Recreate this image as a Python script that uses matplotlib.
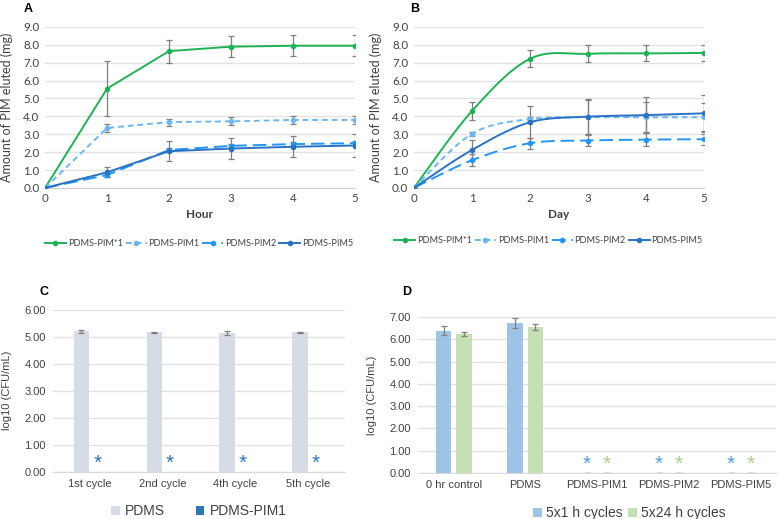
import numpy as np
from matplotlib import pyplot as plt

# ---- data ----
x_time = [0, 1, 2, 3, 4, 5]
series_names = ['PDMS-PIM*1', 'PDMS-PIM1', 'PDMS-PIM2', 'PDMS-PIM5']

hour_vals = {
    'PDMS-PIM*1': [0, 5.55, 7.65, 7.9, 7.95, 7.95],
    'PDMS-PIM1': [0, 3.35, 3.68, 3.72, 3.8, 3.8],
    'PDMS-PIM2': [0, 0.72, 2.12, 2.35, 2.45, 2.5],
    'PDMS-PIM5': [0, 0.87, 2.05, 2.2, 2.3, 2.37],
}
hour_err = {
    'PDMS-PIM*1': [0, 1.52, 0.65, 0.6, 0.6, 0.6],
    'PDMS-PIM1': [0, 0.22, 0.2, 0.22, 0.2, 0.2],
    'PDMS-PIM2': [0, 0.12, 0.1, 0.1, 0.1, 0.1],
    'PDMS-PIM5': [0, 0.27, 0.55, 0.57, 0.6, 0.62],
}
day_vals = {
    'PDMS-PIM*1': [0, 4.3, 7.22, 7.5, 7.52, 7.55],
    'PDMS-PIM1': [0, 3.02, 3.85, 3.95, 3.95, 3.95],
    'PDMS-PIM2': [0, 1.55, 2.5, 2.65, 2.7, 2.72],
    'PDMS-PIM5': [0, 2.12, 3.67, 3.98, 4.07, 4.17],
}
day_err = {
    'PDMS-PIM*1': [0, 0.5, 0.47, 0.48, 0.45, 0.47],
    'PDMS-PIM1': [0, 0.1, 0.1, 0.95, 0.85, 0.8],
    'PDMS-PIM2': [0, 0.35, 0.3, 0.32, 0.35, 0.3],
    'PDMS-PIM5': [0, 0.55, 0.9, 0.98, 1.0, 1.0],
}

cycles = ['1st cycle', '2nd cycle', '4th cycle', '5th cycle']
pdms_c = [5.2, 5.17, 5.15, 5.17]
pdms_c_err = [0.04, 0.01, 0.07, 0.01]
pim1_c = [0, 0, 0, 0]

groups_d = ['0 hr control', 'PDMS', 'PDMS-PIM1', 'PDMS-PIM2', 'PDMS-PIM5']
d_1h = [6.38, 6.75, 0, 0, 0]
d_1h_err = [0.2, 0.22, 0, 0, 0]
d_24h = [6.22, 6.55, 0, 0, 0]
d_24h_err = [0.09, 0.13, 0, 0, 0]

colors = {'PDMS-PIM*1': '#1fb254', 'PDMS-PIM1': '#6cb6f2',
          'PDMS-PIM2': '#2196f3', 'PDMS-PIM5': '#2a72c2'}
dashes = {'PDMS-PIM*1': None, 'PDMS-PIM1': (3, 2),
          'PDMS-PIM2': (7, 3), 'PDMS-PIM5': None}
grid_c = '#e2e2e2'
err_c = '#7f7f7f'
txt_c = '#404040'


def smooth(x, y, n=30):
    # Excel-style smoothed line (Catmull-Rom bezier)
    x = np.asarray(x, float)
    y = np.asarray(y, float)
    xs, ys = [], []
    for i in range(len(x) - 1):
        p0 = np.array([x[max(i - 1, 0)], y[max(i - 1, 0)]])
        p1 = np.array([x[i], y[i]])
        p2 = np.array([x[i + 1], y[i + 1]])
        p3 = np.array([x[min(i + 2, len(x) - 1)], y[min(i + 2, len(x) - 1)]])
        c1 = p1 + (p2 - p0) / 6
        c2 = p2 - (p3 - p1) / 6
        t = np.linspace(0, 1, n)[:, None]
        pts = (1 - t) ** 3 * p1 + 3 * (1 - t) ** 2 * t * c1 + 3 * (1 - t) * t ** 2 * c2 + t ** 3 * p2
        xs.extend(pts[:, 0])
        ys.extend(pts[:, 1])
    return xs, ys


def line_panel(ax, vals, errs, smoothed, xlabel):
    for name in series_names:
        c = colors[name]
        xs, ys = (smooth(x_time, vals[name]) if smoothed else (x_time, vals[name]))
        ln, = ax.plot(xs, ys, color=c, lw=1.4, zorder=3)
        if dashes[name]:
            ln.set_dashes(dashes[name])
        ax.errorbar(x_time, vals[name], yerr=errs[name], fmt='none', ecolor=err_c,
                    elinewidth=0.9, capsize=2, capthick=0.9, zorder=2)
        ax.plot(x_time, vals[name], 'o', color=c, ms=3, zorder=4)
    ax.set_xlim(0, 5)
    ax.set_ylim(0, 9)
    ax.set_yticks(np.arange(0, 9.1, 1))
    ax.set_yticklabels(['%.1f' % v for v in np.arange(0, 9.1, 1)])
    ax.set_xticks(x_time)
    ax.grid(axis='y', color=grid_c, lw=1)
    ax.set_axisbelow(True)
    for s in ['top', 'right', 'left']:
        ax.spines[s].set_visible(False)
    ax.spines['bottom'].set_color('#d0d0d0')
    ax.tick_params(length=0, labelsize=8.3, colors=txt_c, pad=4)
    ax.set_xlabel(xlabel, fontsize=8.5, fontweight='bold', color=txt_c, labelpad=3)
    ax.set_ylabel('Amount of PIM eluted (mg)', fontsize=9, color=txt_c)


plt.rcParams['font.family'] = ['Lato', 'DejaVu Sans']
fig = plt.figure(figsize=(7.78, 5.19), dpi=100)

axA = fig.add_axes([0.058, 0.638, 0.398, 0.310])
axB = fig.add_axes([0.532, 0.638, 0.373, 0.310])
line_panel(axA, hour_vals, hour_err, False, 'Hour')
line_panel(axB, day_vals, day_err, True, 'Day')
axA.yaxis.set_label_coords(-0.105, 0.5)
axB.yaxis.set_label_coords(-0.11, 0.5)

for ax, cx, cy in [(axA, 0.256, 0.531), (axB, 0.705, 0.537)]:
    handles = []
    for name in series_names:
        h, = ax.plot([], [], color=colors[name], lw=1.4, marker='o', ms=3)
        if dashes[name]:
            h.set_dashes(dashes[name])
        handles.append(h)
    fig.legend(handles, series_names, loc='center', bbox_to_anchor=(cx, cy), ncol=4,
               frameon=False, fontsize=6.6, handlelength=2.3, columnspacing=0.3,
               handletextpad=0.2, labelcolor=txt_c)

fig.text(0.031, 0.977, 'A', fontsize=9, fontweight='bold', family='Liberation Sans')
fig.text(0.527, 0.977, 'B', fontsize=9, fontweight='bold', family='Liberation Sans')

# ---- bar panels ----
axC = fig.add_axes([0.068, 0.091, 0.375, 0.312])
axD = fig.add_axes([0.537, 0.089, 0.461, 0.300])

for ax in (axC, axD):
    for s in ['top', 'right', 'left']:
        ax.spines[s].set_visible(False)
    ax.spines['bottom'].set_color('#d9d9d9')
    ax.grid(axis='y', color=grid_c, lw=1)
    ax.set_axisbelow(True)
    ax.tick_params(length=0, labelsize=8, colors=txt_c, pad=5)

w = 0.216
xc = np.arange(len(cycles))
axC.bar(xc - w / 2, pdms_c, w, color='#d6dce5', yerr=pdms_c_err, ecolor=err_c,
        error_kw=dict(elinewidth=0.9, capsize=2, capthick=0.9), label='PDMS')
axC.bar(xc + w / 2, pim1_c, w, color='#2e75b6', label='PDMS-PIM1')
for i in xc:
    axC.text(i + w / 2, 0.3, '*', color='#2e75b6', fontsize=15, ha='center', va='center',
             family='Liberation Sans')
axC.set_xlim(-0.5, len(cycles) - 0.5)
axC.set_ylim(0, 6)
axC.set_yticks(np.arange(0, 6.1, 1))
axC.set_yticklabels(['%.2f' % v for v in np.arange(0, 6.1, 1)], family='Liberation Sans')
axC.set_xticks(xc)
axC.set_xticklabels(cycles, family='Liberation Sans')
axC.set_ylabel('log10 (CFU/mL)', fontsize=8, color=txt_c, family='Liberation Sans')
axC.yaxis.set_label_coords(-0.14, 0.5)
axC.legend(loc='center', bbox_to_anchor=(0.5, -0.245), ncol=2, frameon=False,
           prop=dict(family='Liberation Sans', size=10), handlelength=0.6, handleheight=0.6,
           columnspacing=2.2, handletextpad=0.4, labelcolor=txt_c)

wd = 0.22
gap = 0.06
xd = np.arange(len(groups_d))
axD.bar(xd - (wd + gap) / 2, d_1h, wd, color='#9dc3e6', yerr=d_1h_err, ecolor=err_c,
        error_kw=dict(elinewidth=0.9, capsize=2, capthick=0.9), label='5x1 h cycles')
axD.bar(xd + (wd + gap) / 2, d_24h, wd, color='#c5e0b4', yerr=d_24h_err, ecolor=err_c,
        error_kw=dict(elinewidth=0.9, capsize=2, capthick=0.9), label='5x24 h cycles')
for i in xd[2:]:
    axD.text(i - (wd + gap) / 2, 0.4, '*', color='#5b9bd5', fontsize=15, ha='center',
             va='center', family='Liberation Sans')
    axD.text(i + (wd + gap) / 2, 0.4, '*', color='#a9d18e', fontsize=15, ha='center',
             va='center', family='Liberation Sans')
axD.set_xlim(-0.5, len(groups_d) - 0.5)
axD.set_ylim(0, 7)
axD.set_yticks(np.arange(0, 7.1, 1))
axD.set_yticklabels(['%.2f' % v for v in np.arange(0, 7.1, 1)], family='Liberation Sans')
axD.set_xticks(xd)
axD.set_xticklabels(groups_d, family='Liberation Sans')
axD.set_ylabel('log10 (CFU/mL)', fontsize=8, color=txt_c, family='Liberation Sans')
axD.yaxis.set_label_coords(-0.115, 0.5)
axD.legend(loc='center', bbox_to_anchor=(0.59, -0.26), ncol=2, frameon=False,
           prop=dict(family='Liberation Sans', size=10), handlelength=0.6, handleheight=0.6,
           columnspacing=0.4, handletextpad=0.3, labelcolor=txt_c)

fig.text(0.051, 0.432, 'C', fontsize=9, fontweight='bold', family='Liberation Sans')
fig.text(0.517, 0.432, 'D', fontsize=9, fontweight='bold', family='Liberation Sans')

fig.savefig('out.png', dpi=100)
